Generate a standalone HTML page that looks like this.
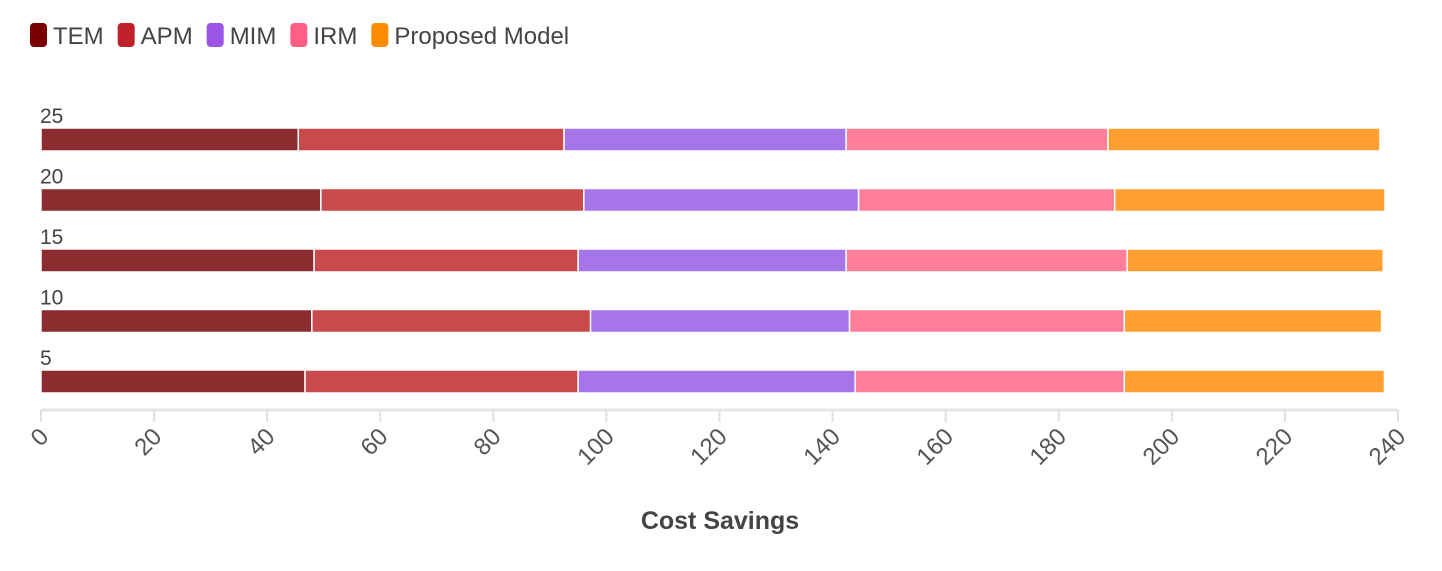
<!DOCTYPE html>
<html><head><meta charset="utf-8"><style>
body{margin:0;background:#fff;font-family:"Liberation Sans",sans-serif}
svg text{font-family:"Liberation Sans",sans-serif}
</style></head><body>
<svg id="chart" width="1442" height="566"></svg>
<script>
const categories=["25","20","15","10","5"];
const seriesNames=["TEM","APM","MIM","IRM","Proposed Model"];
const tem=[45.5,49.5,48.3,47.9,46.7];
const apm=[47.0,46.5,46.7,49.3,48.3];
const mim=[49.9,48.6,47.4,45.8,49.0];
const irm=[46.3,45.3,49.7,48.6,47.6];
const pm=[48.1,47.8,45.3,45.5,46.0];
const ticks=[0,20,40,60,80,100,120,140,160,180,200,220,240];
const series=[tem,apm,mim,irm,pm];
const barColors=["#8b2c2e","#c94a4a","#a675e8","#ff7f9a","#ffa030"];
const legendColors=["#780000","#c0202a","#9b55e6","#ff5f85","#ff8c00"];
const NS="http://www.w3.org/2000/svg";
const svg=document.getElementById("chart");
const x0=41,x1=1398,xmax=240;
const xs=v=>x0+v/xmax*(x1-x0);
const rowTop=128,rowStep=60.5,barH=23;
function mk(t,a,p){const e=document.createElementNS(NS,t);for(const k in a)e.setAttribute(k,a[k]);(p||svg).appendChild(e);return e;}
// legend
let lx=30;
seriesNames.forEach((n,i)=>{
  const g=mk("g",{});
  
  
  mk("rect",{x:lx,y:23,width:17,height:24,rx:4,fill:legendColors[i]},g);
  const t=mk("text",{x:lx+23,y:44,"font-size":24,fill:"#444"},g);
  t.textContent=n;
  lx+=23+t.getComputedTextLength()+14;
});
// axis
const ax=mk("line",{x1:x0,x2:x1,y1:410,y2:410,stroke:"#e6e6e6","stroke-width":3});


ticks.forEach(v=>{
  const x=xs(v);
  const l=mk("line",{x1:x,x2:x,y1:410,y2:422,stroke:"#e0e0e0","stroke-width":2});
  
  
  const t=mk("text",{x:x+9,y:438,"font-size":24,fill:"#555","text-anchor":"end",transform:`rotate(-45 ${x+9} 438)`});
  
  
  t.textContent=v;
});
const title=mk("text",{x:720,y:529,"font-size":25,"font-weight":"bold",fill:"#444","text-anchor":"middle"});


title.textContent="Cost Savings";
categories.forEach((c,r)=>{
  const y=rowTop+r*rowStep;
  const lab=mk("text",{x:40,y:y-5,"font-size":21,fill:"#444"});
  
  
  lab.textContent=c;
  let acc=0;
  series.forEach((s,i)=>{
    const a=xs(acc),b=xs(acc+s[r]);acc+=s[r];
    const rect=mk("rect",{x:a,y:y,width:b-a,height:barH,fill:barColors[i],stroke:"#fff","stroke-width":1.5});
    
    
  });
});
</script>
</body></html>
